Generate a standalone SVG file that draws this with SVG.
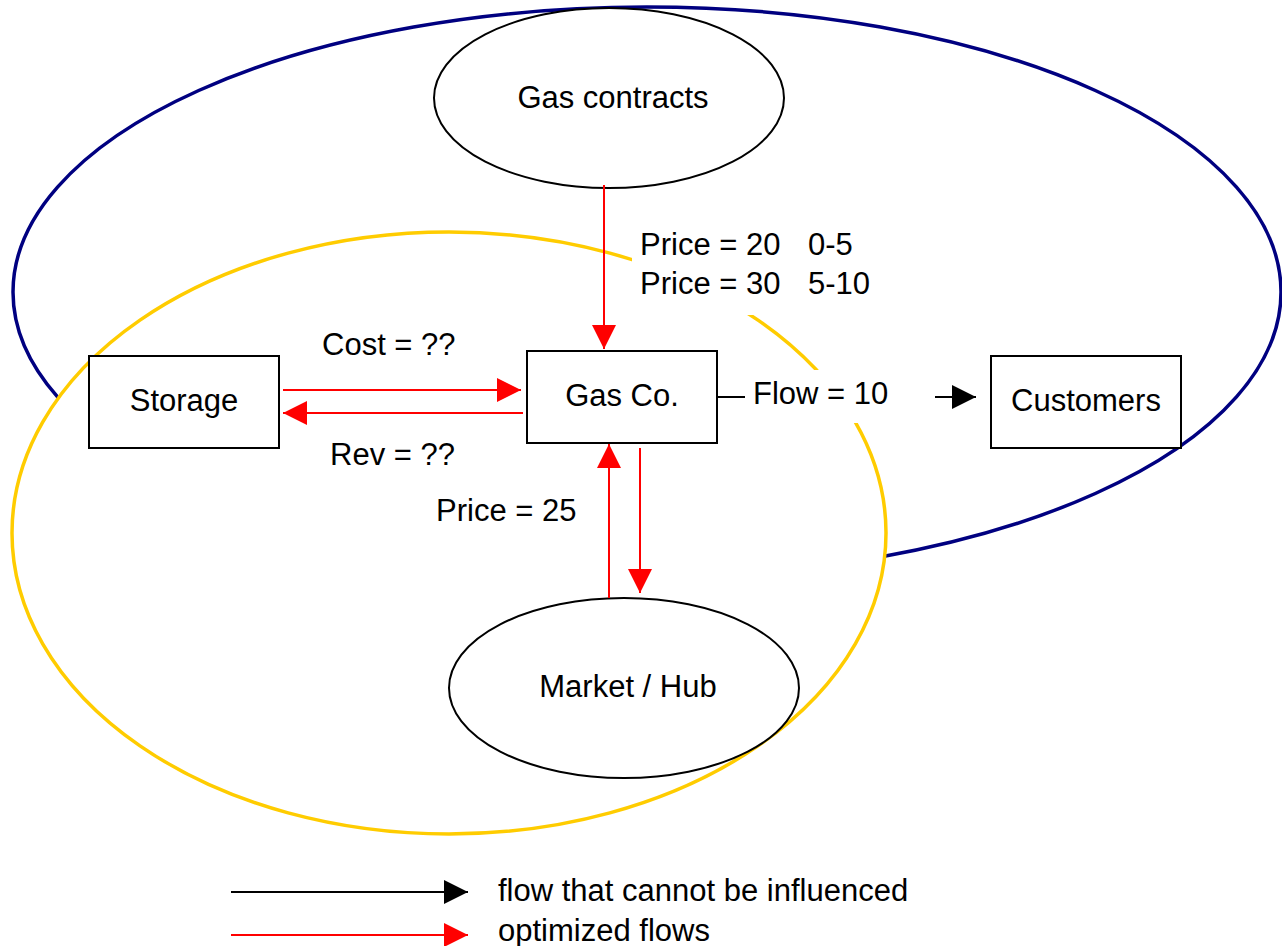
<svg xmlns="http://www.w3.org/2000/svg" width="1282" height="946" viewBox="0 0 1282 946">
<defs>
<style>
text{font-family:"Liberation Sans",Arial,sans-serif;font-size:31px;fill:#000}
.node{fill:#fff;stroke:#000;stroke-width:2}
.red{stroke:#ff0000;stroke-width:2;fill:none}
.blk{stroke:#000;stroke-width:2;fill:none}
.lbl{fill:#fff;stroke:none}
.mid{text-anchor:middle}
</style>
<marker id="ar" viewBox="0 0 24 24" refX="24" refY="12" markerWidth="24" markerHeight="24" markerUnits="userSpaceOnUse" orient="auto"><path d="M0,0 L24,12 L0,24 Z" fill="#ff0000"/></marker>
<marker id="ab" viewBox="0 0 24 24" refX="24" refY="12" markerWidth="24" markerHeight="24" markerUnits="userSpaceOnUse" orient="auto"><path d="M0,0 L24,12 L0,24 Z" fill="#000"/></marker>
</defs>
<g id="regions">
<ellipse cx="647" cy="292" rx="634" ry="285" fill="none" stroke="#000080" stroke-width="3.5"/>
<ellipse cx="449" cy="533" rx="437" ry="301" fill="#fff" stroke="#ffcc00" stroke-width="3.5"/>
</g>
<g id="gas-contracts"><ellipse class="node" cx="609" cy="98" rx="175" ry="90"/><text class="mid" x="613" y="108">Gas contracts</text></g>
<g id="storage"><rect class="node" x="89" y="356" width="190" height="92"/><text class="mid" x="184" y="411">Storage</text></g>
<g id="gas-co"><rect class="node" x="527" y="351" width="190" height="92"/><text class="mid" x="622" y="406">Gas Co.</text></g>
<g id="customers"><rect class="node" x="991" y="356" width="190" height="92"/><text class="mid" x="1086" y="411">Customers</text></g>
<g id="market-hub"><ellipse class="node" cx="624" cy="688" rx="175" ry="90"/><text class="mid" x="628" y="697">Market / Hub</text></g>
<g id="connectors">
<line class="red" x1="604" y1="185" x2="604" y2="349" marker-end="url(#ar)"/>
<line class="red" x1="283" y1="390" x2="521" y2="390" marker-end="url(#ar)"/>
<line class="red" x1="523" y1="413" x2="283" y2="413" marker-end="url(#ar)"/>
<line class="red" x1="609" y1="598" x2="609" y2="444" marker-end="url(#ar)"/>
<line class="red" x1="640" y1="448" x2="640" y2="593" marker-end="url(#ar)"/>
<line class="blk" x1="717" y1="397" x2="976" y2="397" marker-end="url(#ab)"/>
</g>
<g id="labels">
<rect class="lbl" x="632" y="226" width="250" height="89"/>
<text x="640" y="255">Price = 20<tspan x="808">0-5</tspan></text>
<text x="640" y="294">Price = 30<tspan x="808">5-10</tspan></text>
<rect class="lbl" x="745" y="370" width="190" height="53"/>
<text x="753" y="404">Flow = 10</text>
<text x="322" y="355">Cost = ??</text>
<text x="330" y="465">Rev = ??</text>
<text x="436" y="521">Price = 25</text>
</g>
<g id="legend">
<line class="blk" x1="231" y1="892" x2="468" y2="892" marker-end="url(#ab)"/>
<line class="red" x1="231" y1="935" x2="468" y2="935" marker-end="url(#ar)"/>
<text x="498" y="901">flow that cannot be influenced</text>
<text x="498" y="941">optimized flows</text>
</g>
</svg>
